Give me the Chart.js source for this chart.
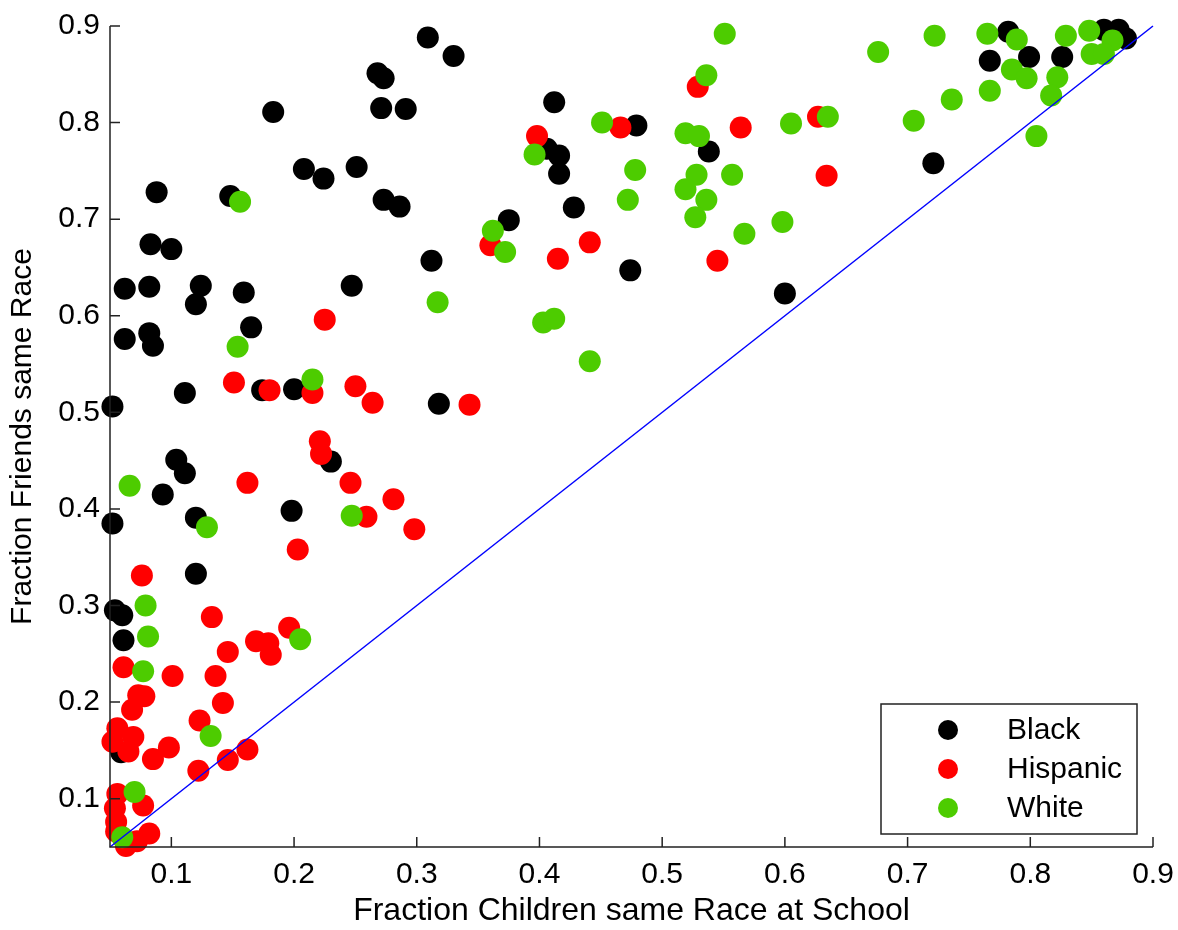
<!DOCTYPE html>
<html><head><meta charset="utf-8">
<script src="https://cdn.jsdelivr.net/npm/chart.js@4/dist/chart.umd.min.js"></script>
<style>html,body{margin:0;padding:0;background:#fff}#wrap{width:1178px;height:930px;position:relative}</style>
</head><body><div id="wrap"><canvas id="c" width="1178" height="930"></canvas></div>
<script>
const categories = ['Black', 'Hispanic', 'White'];
const xTitle = 'Fraction Children same Race at School';
const yTitle = 'Fraction Friends same Race';

const blackX = [0.268,0.273,0.271,0.291,0.183,0.208,0.224,0.251,0.088,0.148,0.273,0.286,0.083,0.100,0.062,0.082,0.124,0.120,0.159,0.247,0.082,0.062,0.085,0.165,0.111,0.052,0.174,0.200,0.230,0.104,0.111,0.093,0.052,0.120,0.198,0.120,0.054,0.060,0.061,0.059,0.309,0.330,0.412,0.406,0.416,0.416,0.428,0.375,0.312,0.318,0.479,0.474,0.538,0.600,0.721,0.782,0.767,0.799,0.826,0.860,0.872,0.878];
const blackY = [0.851,0.846,0.815,0.814,0.811,0.752,0.742,0.754,0.728,0.724,0.720,0.713,0.674,0.669,0.628,0.630,0.631,0.612,0.624,0.631,0.582,0.576,0.569,0.588,0.520,0.506,0.523,0.524,0.449,0.451,0.437,0.415,0.385,0.391,0.398,0.333,0.295,0.290,0.264,0.148,0.888,0.869,0.821,0.773,0.766,0.747,0.712,0.699,0.657,0.509,0.797,0.647,0.770,0.623,0.758,0.894,0.864,0.868,0.868,0.896,0.896,0.887];

const hispanicX = [0.225,0.151,0.180,0.215,0.250,0.264,0.221,0.222,0.162,0.246,0.281,0.259,0.298,0.203,0.076,0.133,0.196,0.146,0.169,0.179,0.181,0.061,0.101,0.136,0.073,0.078,0.068,0.142,0.123,0.056,0.052,0.069,0.065,0.085,0.098,0.122,0.146,0.162,0.056,0.054,0.077,0.055,0.055,0.082,0.063,0.072,0.529,0.398,0.466,0.564,0.627,0.634,0.545,0.360,0.441,0.415,0.343];
const hispanicY = [0.596,0.531,0.523,0.520,0.527,0.510,0.470,0.457,0.427,0.427,0.410,0.392,0.379,0.358,0.331,0.288,0.277,0.252,0.263,0.261,0.249,0.236,0.227,0.227,0.207,0.206,0.192,0.199,0.181,0.173,0.159,0.164,0.149,0.141,0.153,0.129,0.140,0.151,0.105,0.090,0.093,0.076,0.066,0.064,0.051,0.056,0.837,0.786,0.795,0.795,0.806,0.745,0.657,0.673,0.676,0.659,0.508];

const whiteX = [0.156,0.154,0.215,0.066,0.129,0.247,0.079,0.081,0.077,0.205,0.132,0.070,0.060,0.317,0.362,0.372,0.396,0.451,0.478,0.472,0.403,0.412,0.441,0.551,0.536,0.519,0.530,0.605,0.635,0.705,0.736,0.676,0.722,0.528,0.519,0.557,0.536,0.527,0.567,0.598,0.765,0.789,0.829,0.848,0.867,0.850,0.860,0.785,0.797,0.767,0.822,0.817,0.805];
const whiteY = [0.718,0.568,0.534,0.424,0.381,0.393,0.300,0.268,0.232,0.265,0.165,0.107,0.060,0.614,0.688,0.666,0.767,0.800,0.751,0.720,0.593,0.597,0.553,0.892,0.849,0.789,0.786,0.799,0.806,0.802,0.824,0.873,0.890,0.746,0.731,0.746,0.720,0.702,0.685,0.697,0.892,0.886,0.890,0.895,0.885,0.871,0.871,0.855,0.846,0.833,0.847,0.828,0.786];

const diagX = [0.05, 0.9];
const diagY = [0.05, 0.9];

const tickValues = [0.1, 0.2, 0.3, 0.4, 0.5, 0.6, 0.7, 0.8, 0.9];
const tickLabels = ['0.1', '0.2', '0.3', '0.4', '0.5', '0.6', '0.7', '0.8', '0.9'];

const colors = ['#000000', '#ff0000', '#4dcc00'];
const FONT = '"Liberation Sans", Arial, Helvetica, sans-serif';

function pts(xs, ys) { return xs.map((v, i) => ({x: v, y: ys[i]})); }

const seriesX = [blackX, hispanicX, whiteX];
const seriesY = [blackY, hispanicY, whiteY];

const datasets = categories.map((name, i) => ({
  label: name,
  data: pts(seriesX[i], seriesY[i]),
  backgroundColor: colors[i],
  borderWidth: 0,
  pointRadius: 11,
  pointHoverRadius: 11,
  clip: false,
  order: 3 - i
}));
datasets.push({
  label: 'diag',
  data: pts(diagX, diagY),
  showLine: true,
  borderColor: '#0000ff',
  borderWidth: 1.5,
  pointRadius: 0,
  clip: false,
  order: 0
});

const axesPlugin = {
  id: 'matlabAxes',
  afterDatasetsDraw(chart) {
    const {ctx, chartArea: a, scales: {x, y}} = chart;
    ctx.save();
    ctx.strokeStyle = '#222';
    ctx.lineWidth = 1.5;
    ctx.beginPath();
    ctx.moveTo(a.left, a.top);
    ctx.lineTo(a.left, a.bottom);
    ctx.lineTo(a.right, a.bottom);
    ctx.stroke();
    ctx.beginPath();
    tickValues.forEach(v => {
      const px = x.getPixelForValue(v);
      ctx.moveTo(px, a.bottom); ctx.lineTo(px, a.bottom - 10);
      const py = y.getPixelForValue(v);
      ctx.moveTo(a.left, py); ctx.lineTo(a.left + 10, py);
    });
    ctx.stroke();

    // legend box
    const bw = 256, bh = 130;
    const bx = a.right - 16 - bw, by = a.bottom - 13 - bh;
    ctx.fillStyle = '#fff';
    ctx.fillRect(bx, by, bw, bh);
    ctx.lineWidth = 1.5;
    ctx.strokeStyle = '#222';
    ctx.strokeRect(bx, by, bw, bh);
    ctx.font = '30px ' + FONT;
    ctx.textBaseline = 'middle';
    ctx.textAlign = 'left';
    categories.forEach((name, i) => {
      const ry = by + 26 + i * 39;
      ctx.beginPath();
      ctx.fillStyle = colors[i];
      ctx.arc(bx + 67, ry, 10, 0, Math.PI * 2);
      ctx.fill();
      ctx.fillStyle = '#000';
      ctx.fillText(name, bx + 126, ry + 1);
    });
    ctx.restore();
  }
};

function setTicks(scale) { scale.ticks = tickValues.map(v => ({value: v})); }

new Chart(document.getElementById('c'), {
  type: 'scatter',
  data: {datasets},
  options: {
    responsive: false,
    animation: false,
    events: [],
    layout: {padding: {left: 0, right: 25, top: 26, bottom: 0}},
    plugins: {legend: {display: false}, tooltip: {enabled: false}},
    scales: {
      x: {
        type: 'linear', min: 0.05, max: 0.9,
        afterBuildTicks: setTicks,
        afterFit(s) { s.height = 83; s.paddingLeft = 0; s.paddingRight = 0; },
        grid: {display: false, drawTicks: false},
        border: {display: false},
        ticks: {
          autoSkip: false, maxRotation: 0, padding: 10, color: '#000',
          font: {family: FONT, size: 30},
          callback: (v) => tickLabels[tickValues.findIndex(t => Math.abs(t - v) < 1e-6)]
        },
        title: {display: true, text: xTitle, color: '#000', font: {family: FONT, size: 32}, padding: {top: 0, bottom: 0}}
      },
      y: {
        type: 'linear', min: 0.05, max: 0.9,
        afterBuildTicks: setTicks,
        afterFit(s) { s.width = 110; s.paddingTop = 0; s.paddingBottom = 0; },
        grid: {display: false, drawTicks: false},
        border: {display: false},
        ticks: {
          autoSkip: false, padding: 10, color: '#000',
          font: {family: FONT, size: 30},
          callback: (v) => tickLabels[tickValues.findIndex(t => Math.abs(t - v) < 1e-6)]
        },
        title: {display: true, text: yTitle, color: '#000', font: {family: FONT, size: 30}, padding: {top: 5, bottom: 0}}
      }
    }
  },
  plugins: [axesPlugin]
});
</script></body></html>
